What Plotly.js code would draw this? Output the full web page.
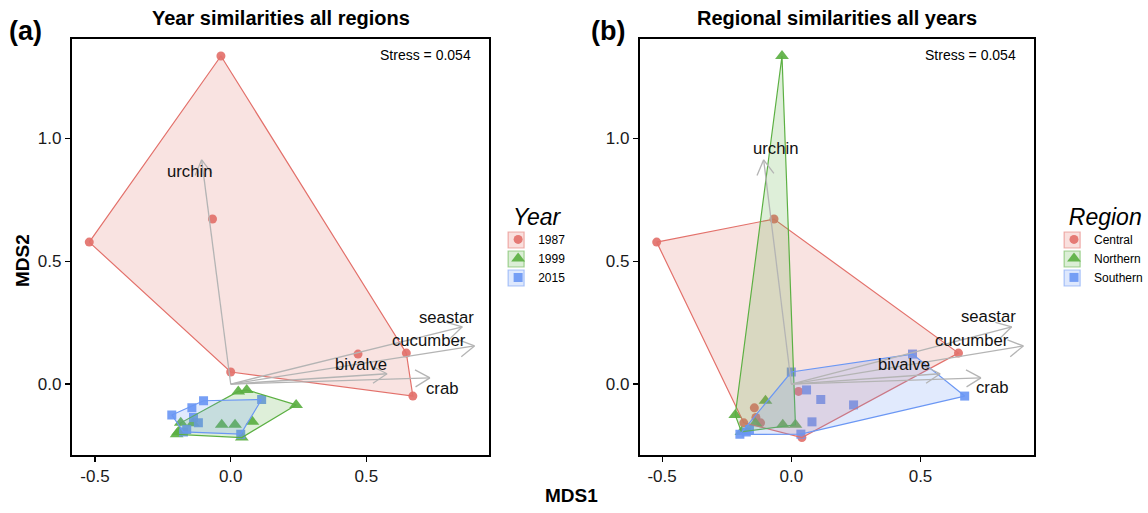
<!DOCTYPE html>
<html><head><meta charset="utf-8">
<script src="https://cdn.plot.ly/plotly-3.0.1.min.js"></script>
<style>html,body{margin:0;padding:0;background:#fff}#chart{width:1148px;height:513px}</style>
</head><body><div id="chart"></div>
<script>
// ---------------- DATA ----------------
const pointX = [-0.036, -0.067, -0.521, 0.000, 0.469, 0.647, 0.671,
                0.028, 0.059, 0.241, 0.080, -0.033, 0.016, -0.184, -0.193, -0.199, 0.041, -0.139,
                -0.100, -0.143, -0.217, -0.137, -0.119, -0.162, -0.174, 0.114, 0.037];
const pointY = [1.336, 0.672, 0.578, 0.049, 0.122, 0.126, -0.049,
                -0.030, -0.024, -0.085, -0.154, -0.166, -0.166, -0.158, -0.195, -0.205, -0.218, -0.160,
                -0.068, -0.097, -0.126, -0.136, -0.158, -0.185, -0.195, -0.063, -0.204];
const pointYear = ['1987','1987','1987','1987','1987','1987','1987',
                   '1999','1999','1999','1999','1999','1999','1999','1999','1999','1999','1999',
                   '2015','2015','2015','2015','2015','2015','2015','2015','2015'];
const pointRegion = ['Northern','Central','Central','Southern','Southern','Central','Southern',
                     'Central','Southern','Southern','Southern','Northern','Northern','Central','Northern','Southern','Central','Northern',
                     'Northern','Central','Northern','Central','Central','Southern','Southern','Southern','Southern'];
const years = ['1987','1999','2015'];
const regions = ['Central','Northern','Southern'];
const vectorNames = ['urchin','seastar','cucumber','bivalve','crab'];
const vectorX = [-0.107, 0.853, 0.898, 0.576, 0.734];
const vectorY = [0.913, 0.233, 0.155, 0.042, 0.025];
const stressText = 'Stress = 0.054';
const xTicks = [-0.5, 0.0, 0.5];
const xTickText = ['-0.5','0.0','0.5'];
const yTicks = [0.0, 0.5, 1.0];
const yTickText = ['0.0','0.5','1.0'];

// ---------------- STYLE / LAYOUT ----------------
const W = 1148, H = 513;
const FONT = 'Liberation Sans, Arial, Helvetica, sans-serif';
const groupColors = ['#E3716B', '#5CB043', '#6B97F4'];
const groupSymbols = ['circle', 'triangle-up', 'square'];
const groupSizes = [9, 12, 9];
const arrowColor = '#B4B4B4';
const yPix = [39.3, 455];
const yRange = [-0.289, 1.404];
const legendItemStep = 19;
const legendFirstY = 240;

const panels = [
  { groups: years, field: pointYear, xa: 'x', ya: 'y', xPix: [72, 490], xRange: [-0.585, 0.952],
    legend: 'legend', legendTitle: 'Year', title: 'Year similarities all regions', tag: '(a)', tagX: 26,
    labelX: [-0.150, 0.795, 0.729, 0.479, 0.780], labelY: [0.864, 0.273, 0.179, 0.081, -0.020],
    legendX: 499 },
  { groups: regions, field: pointRegion, xa: 'x2', ya: 'y2', xPix: [641, 1036], xRange: [-0.586, 0.940],
    legend: 'legend2', legendTitle: 'Region', title: 'Regional similarities all years', tag: '(b)', tagX: 609,
    labelX: [-0.061, 0.762, 0.700, 0.437, 0.777], labelY: [0.961, 0.277, 0.179, 0.081, -0.016],
    legendX: 1056 }
];

function rgba(hex, a) {
  const n = parseInt(hex.slice(1), 16);
  return `rgba(${(n >> 16) & 255},${(n >> 8) & 255},${n & 255},${a})`;
}
function hull(pts) {
  const p = pts.slice().sort((a, b) => a[0] - b[0] || a[1] - b[1]);
  const cross = (o, a, b) => (a[0] - o[0]) * (b[1] - o[1]) - (a[1] - o[1]) * (b[0] - o[0]);
  const lower = [], upper = [];
  for (const q of p) { while (lower.length >= 2 && cross(lower[lower.length - 2], lower[lower.length - 1], q) <= 0) lower.pop(); lower.push(q); }
  for (let i = p.length - 1; i >= 0; i--) { const q = p[i]; while (upper.length >= 2 && cross(upper[upper.length - 2], upper[upper.length - 1], q) <= 0) upper.pop(); upper.push(q); }
  upper.pop(); lower.pop();
  return lower.concat(upper);
}

const traces = [];
const annotations = [];
const shapes = [];
const layout = {
  width: W, height: H, margin: { l: 0, r: 0, t: 0, b: 0 },
  paper_bgcolor: '#fff', plot_bgcolor: '#fff',
  font: { family: FONT, size: 12, color: '#000' },
  showlegend: true
};

panels.forEach((P, pi) => {
  const sfx = pi === 0 ? '' : '2';
  const axCommon = {
    showgrid: false, zeroline: false, showline: true, mirror: true, linecolor: '#000', linewidth: 2,
    ticks: 'outside', ticklen: 5, tickwidth: 1.2, tickcolor: '#000',
    tickfont: { family: FONT, size: 17, color: '#1a1a1a' }, fixedrange: true
  };
  layout['xaxis' + sfx] = Object.assign({}, axCommon, {
    domain: [P.xPix[0] / W, P.xPix[1] / W], range: P.xRange, anchor: 'y' + sfx,
    tickvals: xTicks, ticktext: xTickText
  });
  layout['yaxis' + sfx] = Object.assign({}, axCommon, {
    domain: [(H - yPix[1]) / H, (H - yPix[0]) / H], range: yRange, anchor: 'x' + sfx,
    tickvals: yTicks, ticktext: yTickText
  });

  // points
  P.groups.forEach((g, gi) => {
    const idx = pointX.map((_, i) => i).filter(i => P.field[i] === g);
    traces.push({
      type: 'scatter', mode: 'markers', name: g, legend: P.legend,
      x: idx.map(i => pointX[i]), y: idx.map(i => pointY[i]),
      xaxis: P.xa, yaxis: P.ya,
      marker: { symbol: groupSymbols[gi], size: groupSizes[gi], color: groupColors[gi], opacity: 0.92, line: { width: 0 } },
      hoverinfo: 'skip'
    });
  });
  // hulls
  P.groups.forEach((g, gi) => {
    const pts = pointX.map((x, i) => [x, pointY[i]]).filter((_, i) => P.field[i] === g);
    const h = hull(pts); h.push(h[0]);
    traces.push({
      type: 'scatter', mode: 'lines', fill: 'toself', showlegend: false, legend: P.legend,
      x: h.map(q => q[0]), y: h.map(q => q[1]), xaxis: P.xa, yaxis: P.ya,
      line: { color: groupColors[gi], width: 1.2 }, fillcolor: rgba(groupColors[gi], 0.2),
      hoverinfo: 'skip'
    });
  });
  // vectors
  const sx = (P.xPix[1] - P.xPix[0]) / (P.xRange[1] - P.xRange[0]);
  const sy = (yPix[1] - yPix[0]) / (yRange[1] - yRange[0]);
  const lx = [], ly = [], hx = [], hy = [];
  const L = 17, ang = 30 * Math.PI / 180;
  vectorX.forEach((vx, i) => {
    const vy = vectorY[i];
    lx.push(0, vx, null); ly.push(0, vy, null);
    const dx = vx * sx, dy = vy * sy, len = Math.hypot(dx, dy);
    const ux = dx / len, uy = dy / len;
    [ang, -ang].forEach(a => {
      const rx = ux * Math.cos(a) - uy * Math.sin(a);
      const ry = ux * Math.sin(a) + uy * Math.cos(a);
      hx.push(vx - L * rx / sx, vx, null);
      hy.push(vy - L * ry / sy, vy, null);
    });
  });
  traces.push({ type: 'scatter', mode: 'lines', x: lx, y: ly, xaxis: P.xa, yaxis: P.ya, showlegend: false, legend: P.legend,
    line: { color: arrowColor, width: 1.3 }, hoverinfo: 'skip' });
  traces.push({ type: 'scatter', mode: 'lines', x: hx, y: hy, xaxis: P.xa, yaxis: P.ya, showlegend: false, legend: P.legend,
    line: { color: arrowColor, width: 1.3 }, hoverinfo: 'skip' });
  vectorNames.forEach((nm, i) => {
    annotations.push({ xref: P.xa, yref: P.ya, x: P.labelX[i], y: P.labelY[i], text: nm, showarrow: false,
      font: { family: FONT, size: 16.7, color: '#111' }, xanchor: 'center', yanchor: 'middle' });
  });
  // stress
  annotations.push({ xref: 'paper', yref: 'paper', x: (P.xPix[1] - 16) / W, y: (H - 55) / H, text: stressText,
    showarrow: false, xanchor: 'right', yanchor: 'middle', font: { family: FONT, size: 14, color: '#000' } });
  // title
  annotations.push({ xref: 'paper', yref: 'paper', x: (P.xPix[0] + P.xPix[1]) / 2 / W, y: (H - 18) / H,
    text: '<b>' + P.title + '</b>', showarrow: false, xanchor: 'center', yanchor: 'middle',
    font: { family: FONT, size: 20, color: '#000' } });
  // tag
  annotations.push({ xref: 'paper', yref: 'paper', x: P.tagX / W, y: (H - 31) / H,
    text: '<b>' + P.tag + '</b>', showarrow: false, xanchor: 'center', yanchor: 'middle',
    font: { family: FONT, size: 27, color: '#000' } });
  // legend
  layout[P.legend] = {
    x: P.legendX / W, y: (H - 195) / H, xanchor: 'left', yanchor: 'top',
    bgcolor: 'rgba(0,0,0,0)', borderwidth: 0, tracegroupgap: 0,
    title: { text: '&nbsp;&nbsp;<i>' + P.legendTitle + '</i>', font: { family: FONT, size: 23, color: '#000' } },
    font: { family: FONT, size: 12, color: '#000' }, itemclick: false, itemdoubleclick: false
  };
  P.groups.forEach((g, gi) => {
    const cy = legendFirstY + gi * legendItemStep;
    const kx = P.legendX + 18;
    shapes.push({ type: 'rect', xref: 'paper', yref: 'paper', layer: 'below',
      x0: (kx - 8) / W, x1: (kx + 8) / W, y0: (H - (cy + 8)) / H, y1: (H - (cy - 8)) / H,
      fillcolor: rgba(groupColors[gi], 0.22), line: { color: rgba(groupColors[gi], 0.55), width: 1.2 } });
  });
});

annotations.push({ xref: 'paper', yref: 'paper', x: 22 / W, y: (H - 260) / H, text: '<b>MDS2</b>', textangle: -90,
  showarrow: false, xanchor: 'center', yanchor: 'middle', font: { family: FONT, size: 19, color: '#000' } });
annotations.push({ xref: 'paper', yref: 'paper', x: 572 / W, y: (H - 495) / H, text: '<b>MDS1</b>',
  showarrow: false, xanchor: 'center', yanchor: 'middle', font: { family: FONT, size: 19, color: '#000' } });

layout.annotations = annotations;
layout.shapes = shapes;

Plotly.newPlot('chart', traces, layout, { staticPlot: true, displayModeBar: false });
</script>
</body></html>
